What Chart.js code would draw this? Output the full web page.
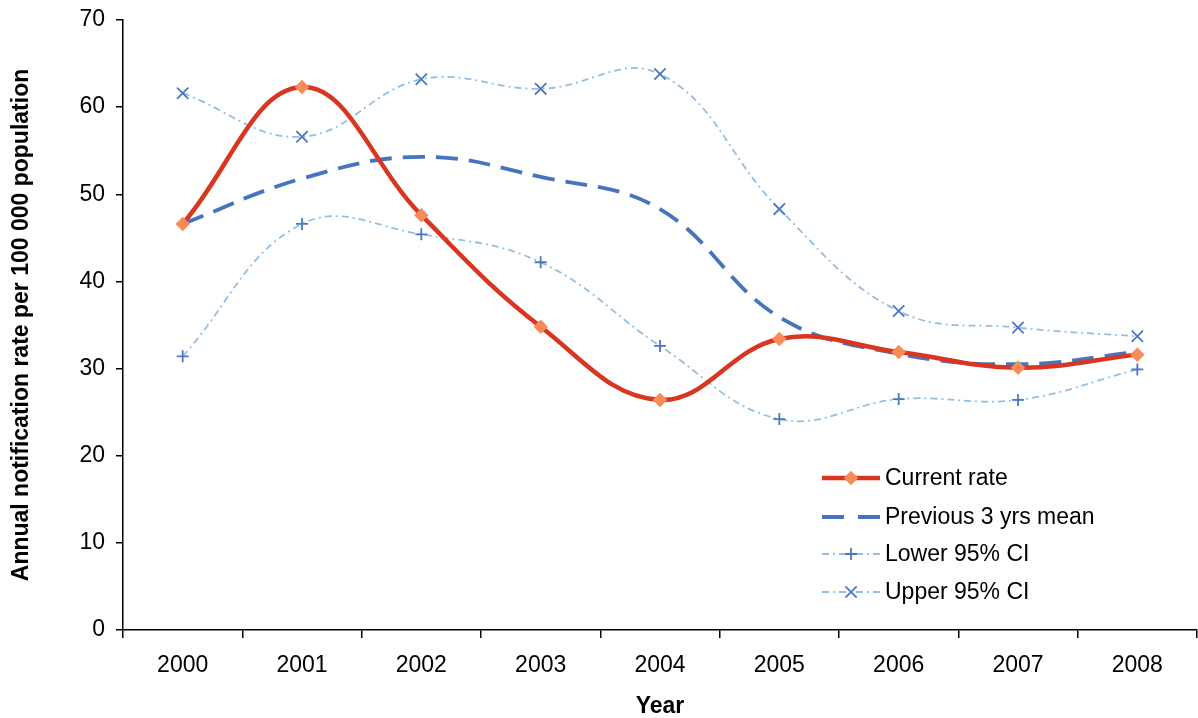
<!DOCTYPE html>
<html>
<head>
<meta charset="utf-8">
<script src="https://cdn.jsdelivr.net/npm/chart.js@4"></script>
<style>
html,body{margin:0;padding:0;background:#fff;overflow:hidden;}
#wrap{position:relative;width:1198px;height:718px;}
#c{display:block;}
</style>
</head>
<body>
<div id="wrap"><canvas id="c"></canvas></div>
<script>
const years = ['2000','2001','2002','2003','2004','2005','2006','2007','2008'];
const currentRate = [46.6, 62.3, 47.6, 34.8, 26.4, 33.4, 31.9, 30.1, 31.6];
const prevMean = [46.6, 51.8, 54.3, 52.0, 48.3, 35.9, 31.7, 30.5, 31.9];
const lowerCI = [31.4, 46.6, 45.4, 42.2, 32.6, 24.2, 26.5, 26.4, 29.9];
const upperCI = [61.6, 56.6, 63.2, 62.1, 63.8, 48.3, 36.6, 34.7, 33.7];
const yTicks = [0, 10, 20, 30, 40, 50, 60, 70];
const labels = ['Current rate', 'Previous 3 yrs mean', 'Lower 95% CI', 'Upper 95% CI'];

const FONT = 'Liberation Sans, Arial, sans-serif';
const RED = '#D83620', ORANGE = '#F88C58', BLUE = '#4674BE', LBLUE = '#94BEE2', MBLUE = '#4A78C2';
const CI_DASH = [7, 4, 2, 4];

const legendPlugin = {
  id: 'insideLegend',
  afterDraw(chart) {
    const ctx = chart.ctx;
    const rows = [478, 517, 554, 592];
    const x0 = 822, x1 = 880, xm = 851, tx = 885;
    ctx.save();
    chart.data.datasets.forEach((ds, i) => {
      const y = rows[i];
      ctx.save();
      ctx.strokeStyle = ds.borderColor;
      ctx.lineWidth = ds.borderWidth;
      ctx.setLineDash(ds.borderDash || []);
      ctx.lineCap = 'butt';
      ctx.beginPath();
      if (i === 1) {
        ctx.setLineDash([]);
        ctx.moveTo(x0, y); ctx.lineTo(x0 + 22, y);
        ctx.moveTo(x1 - 22, y); ctx.lineTo(x1, y);
      } else {
        ctx.moveTo(x0, y); ctx.lineTo(x1, y);
      }
      ctx.stroke();
      ctx.restore();
      if (ds.pointRadius > 0) {
        ctx.save();
        ctx.fillStyle = ds.pointBackgroundColor;
        ctx.strokeStyle = ds.pointBorderColor;
        ctx.lineWidth = ds.pointBorderWidth;
        ctx.setLineDash([]);
        Chart.helpers.drawPoint(ctx, {
          pointStyle: ds.pointStyle,
          radius: ds.pointRadius,
          borderWidth: ds.pointBorderWidth,
          rotation: 0
        }, xm, y);
        ctx.restore();
      }
      ctx.fillStyle = '#000';
      ctx.font = '23px ' + FONT;
      ctx.textBaseline = 'middle';
      ctx.textAlign = 'left';
      ctx.fillText(ds.label, tx, y + 1);
    });
    ctx.restore();
  }
};

new Chart(document.getElementById('c'), {
  type: 'line',
  data: {
    labels: years,
    datasets: [
      {
        label: labels[0], data: currentRate,
        borderColor: RED, borderWidth: 4.5,
        pointStyle: 'rectRot', pointRadius: 7, pointBackgroundColor: ORANGE,
        pointBorderColor: ORANGE, pointBorderWidth: 0.5,
        tension: 0.4, fill: false
      },
      {
        label: labels[1], data: prevMean,
        borderColor: BLUE, borderWidth: 3.8, borderDash: [22, 11],
        pointRadius: 0, tension: 0.4, fill: false
      },
      {
        label: labels[2], data: lowerCI,
        borderColor: LBLUE, borderWidth: 1.8, borderDash: CI_DASH,
        pointStyle: 'cross', pointRadius: 6, pointBackgroundColor: MBLUE,
        pointBorderColor: MBLUE, pointBorderWidth: 1.8,
        tension: 0.4, fill: false
      },
      {
        label: labels[3], data: upperCI,
        borderColor: LBLUE, borderWidth: 1.8, borderDash: CI_DASH,
        pointStyle: 'crossRot', pointRadius: 8, pointBackgroundColor: MBLUE,
        pointBorderColor: MBLUE, pointBorderWidth: 1.8,
        tension: 0.4, fill: false
      }
    ]
  },
  options: {
    responsive: true,
    maintainAspectRatio: false,
    animation: false,
    devicePixelRatio: 1,
    layout: { autoPadding: false, padding: { top: 20, right: 1, left: 0, bottom: 0 } },
    plugins: { legend: { display: false }, tooltip: { enabled: false } },
    scales: {
      x: {
        type: 'category',
        offset: true,
        grid: { display: true, offset: true, drawOnChartArea: false, drawTicks: true, tickLength: 8, color: '#000', lineWidth: 1.5 },
        border: { display: true, color: '#000', width: 1.5 },
        ticks: { color: '#000', font: { family: FONT, size: 23 }, padding: 14, maxRotation: 0 },
        title: { display: true, text: 'Year', color: '#000', font: { family: FONT, size: 23, weight: 'bold', lineHeight: 1 }, padding: { top: 0, bottom: 0 } },
        afterFit(s) { s.height = 88; s.paddingLeft = 0; s.paddingRight = 0; }
      },
      y: {
        min: 0, max: 70,
        afterBuildTicks(s) { s.ticks = yTicks.map(v => ({ value: v })); },
        grid: { display: true, drawOnChartArea: false, drawTicks: true, tickLength: 7, color: '#000', lineWidth: 1.5 },
        border: { display: true, color: '#000', width: 1.5 },
        ticks: { color: '#000', font: { family: FONT, size: 23 }, padding: 11 },
        title: { display: true, text: 'Annual notification rate per 100 000 population', color: '#000', font: { family: FONT, size: 23, weight: 'bold', lineHeight: 1 }, padding: { top: 10, bottom: 0 } },
        afterFit(s) { s.width = 123; s.paddingTop = 0; s.paddingBottom = 0; }
      }
    }
  },
  plugins: [legendPlugin]
});
</script>
</body>
</html>
